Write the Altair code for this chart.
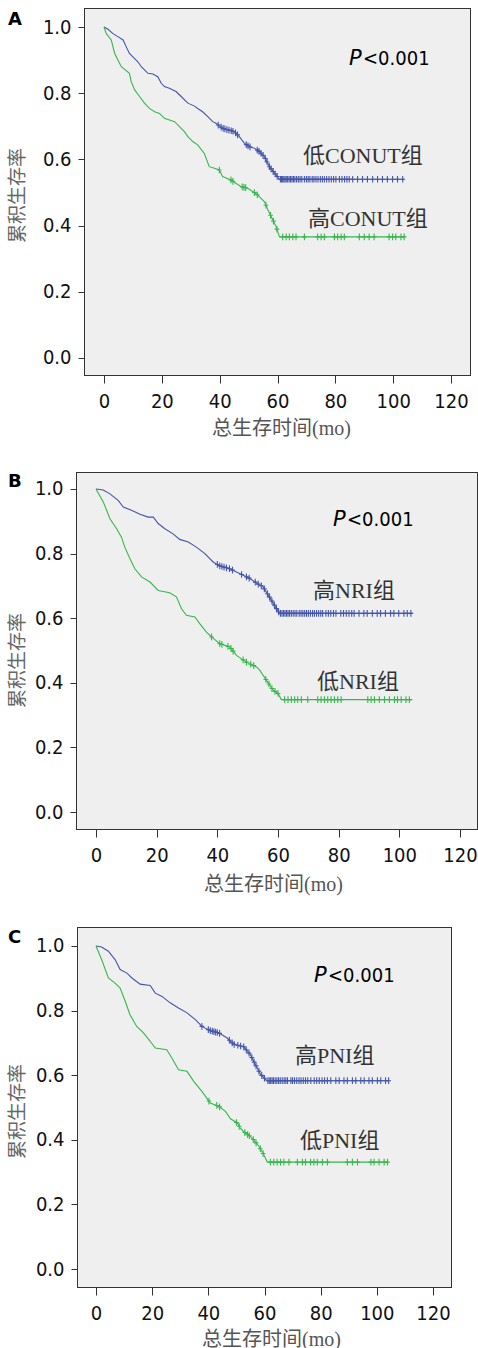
import altair as alt
import pandas as pd

# ---------------------------------------------------------------- styling
BLUE = "#4355ab"
GREEN = "#35b84b"
FRAME = "#333333"
PANEL_BG = "#efefef"
NUM_FONT = "DejaVu Sans Condensed, DejaVu Sans"
LABEL_FONT = "Liberation Serif, Noto Sans CJK SC"
CJK_FONT = "Noto Sans CJK SC"
CENSOR_SHAPE = "M0,-1L0,1M-0.7,0L0.7,0"

x_ticks = [0, 20, 40, 60, 80, 100, 120]
y_ticks = [0.0, 0.2, 0.4, 0.6, 0.8, 1.0]
x_title = "总生存时间(mo)"
y_title = "累积生存率"
p_prefix = "P"
p_rest = "<0.001"

# ---------------------------------------------------------------- panel A: CONUT
a_blue_name = "低CONUT组"
a_blue_t = [0, 1.4, 3.1, 4.8, 6.6, 7.7, 8.8, 10, 11.7, 12.9, 15.2, 16.9, 18.6, 19.8,
            20.9, 22.6, 24.9, 26.7, 29, 31.3, 32.4, 34.1, 35.9, 37.6, 38.7, 41, 45,
            46.8, 48.5, 50.3, 52, 53.8, 55.5, 57.2, 59, 60.7, 103.8]
a_blue_s = [1.0, 0.993, 0.98, 0.971, 0.961, 0.94, 0.92, 0.91, 0.895, 0.88, 0.86, 0.858,
            0.85, 0.83, 0.82, 0.815, 0.805, 0.79, 0.77, 0.761, 0.754, 0.744, 0.729,
            0.714, 0.709, 0.694, 0.684, 0.669, 0.649, 0.638, 0.634, 0.623, 0.608,
            0.578, 0.558, 0.54, 0.54]
a_blue_cens = [39.5, 40.5, 41.2, 41.8, 42.5, 43.2, 44, 44.6, 45.5, 46.2, 49.2, 49.8,
               50.5, 53, 53.6, 54.3, 55, 55.8, 56.4, 57.2, 57.8, 58.5, 59.2, 59.9,
               61, 61.4, 61.8, 62.2, 62.6, 63, 63.5, 64, 64.5, 65, 65.5, 66, 66.6,
               67.2, 67.8, 68.4, 69.3, 70, 70.6, 71.2, 72, 72.6, 73.3, 74, 74.8, 75.5,
               76.2, 77, 77.8, 78.6, 79.4, 80.2, 81.4, 82.3, 83.2, 84, 84.8, 86, 87.7,
               89.4, 91.1, 92.9, 94.6, 96.3, 98, 99.8, 101.5, 103.3]
a_green_name = "高CONUT组"
a_green_t = [0, 0.8, 2.5, 3.7, 4.8, 6, 8.8, 9.4, 10.6, 12.3, 14, 15.7, 17.5, 19.2,
             20.9, 24.4, 26.1, 27.8, 29, 30.7, 32.4, 34.7, 36.4, 38.2, 39.9, 41,
             43.9, 47.3, 49.7, 52.5, 53.8, 55.5, 56.7, 58.4, 59.5, 60.7, 103.8]
a_green_s = [1.0, 0.98, 0.961, 0.92, 0.9, 0.88, 0.86, 0.835, 0.81, 0.79, 0.77, 0.754,
             0.744, 0.739, 0.724, 0.714, 0.699, 0.684, 0.669, 0.654, 0.644, 0.618,
             0.578, 0.573, 0.568, 0.548, 0.538, 0.518, 0.513, 0.497, 0.487, 0.472,
             0.447, 0.417, 0.397, 0.366, 0.366]
a_green_cens = [39.9, 43.9, 44.6, 47.8, 48.4, 49, 52, 53, 56, 57.6, 58.6, 59.8,
                61.8, 63, 64.1, 65.3, 66.4, 69.3, 73.9, 75.1, 76.2, 79.7, 80.8, 82,
                83.1, 88.3, 90, 91.7, 93.4, 98.6, 99.8, 100.9, 102.7, 103.8]

# ---------------------------------------------------------------- panel B: NRI
b_blue_name = "高NRI组"
b_blue_t = [0, 2.4, 4.6, 7.3, 9, 11.7, 14.5, 17.2, 18.9, 20.5, 22.7, 25.4, 27.6, 30.4,
            33.1, 35.9, 38.6, 40.8, 44.1, 46.3, 49.6, 50.7, 53.9, 55, 56.1, 57.8,
            59.4, 60.5, 104.4]
b_blue_s = [1.0, 0.997, 0.985, 0.965, 0.944, 0.934, 0.922, 0.913, 0.913, 0.893, 0.877,
            0.861, 0.844, 0.836, 0.82, 0.8, 0.774, 0.762, 0.753, 0.743, 0.728, 0.723,
            0.703, 0.698, 0.682, 0.656, 0.631, 0.615, 0.615]
b_blue_cens = [40, 40.8, 41.5, 42.2, 43, 44, 45, 48, 49.6, 50.5, 52.5, 53.5, 54.5,
               55.5, 56.5, 57.2, 58, 58.8, 59.5, 60.2,
               60.8, 61.3, 61.8, 62.3, 62.8, 63.3, 63.8, 64.4, 65, 65.6, 66.2, 67,
               67.6, 68.2, 68.8, 69.4, 70, 70.7, 71.4, 72, 72.7, 73.4, 74.1, 74.7,
               75.8, 76.6, 77.4, 78.3, 79.1, 80.7, 81.6, 82.5, 83.4, 84.3, 85.1,
               86.7, 88.3, 89.4, 91.1, 92.7, 93.8, 95.4, 97.1, 98.2, 99.8, 101.5,
               102.6, 103.8]
b_green_name = "低NRI组"
b_green_t = [0, 2.4, 4.6, 6.8, 8.4, 9.5, 11.2, 12.8, 15, 17.8, 20.5, 24.3, 26.5,
             28.2, 29.8, 32.6, 34.2, 36.4, 38.1, 40.8, 44.1, 46.3, 49.6, 52.9, 53.9,
             56.1, 58.3, 60, 61.1, 104.3]
b_green_s = [1.0, 0.96, 0.908, 0.877, 0.851, 0.82, 0.784, 0.753, 0.728, 0.712, 0.686,
             0.679, 0.666, 0.629, 0.609, 0.604, 0.583, 0.557, 0.542, 0.521, 0.511,
             0.485, 0.464, 0.449, 0.44, 0.409, 0.378, 0.367, 0.348, 0.348]
b_green_cens = [38.1, 40.8, 41.5, 43.5, 44.5, 45.2, 48.5, 49.6, 51, 52, 56, 57, 58,
                59, 60, 62.2, 63.3, 64.4, 65.5, 66.5, 67.7, 69.8, 73.1, 74.2, 75.3,
                76.4, 77.5, 78.6, 79.7, 80.8, 89.6, 90.7, 91.8, 93.4, 95.1, 96.7,
                98.4, 99.4, 100.6, 102.2, 103.3]

# ---------------------------------------------------------------- panel C: PNI
c_blue_name = "高PNI组"
c_blue_t = [0, 2, 4.4, 6.8, 8.6, 11, 12.8, 15.7, 19.3, 21.1, 23.5, 26.4, 29.4, 32.4,
            35.4, 37.7, 40.7, 43.7, 46.7, 49, 52.6, 55, 56.8, 58.6, 60.4, 61, 104.4]
c_blue_s = [1.0, 0.997, 0.984, 0.958, 0.927, 0.916, 0.901, 0.882, 0.878, 0.854, 0.844,
            0.824, 0.808, 0.793, 0.772, 0.751, 0.738, 0.731, 0.715, 0.696, 0.688,
            0.663, 0.632, 0.603, 0.587, 0.583, 0.583]
c_blue_cens = [37.7, 40, 40.7, 41.4, 42, 42.6, 43.2, 44, 47.5, 48.5, 49.2, 50.5, 51.5,
               52.6, 53.5, 54.5, 55.5, 56.3, 57, 58, 59, 60,
               61.2, 61.7, 62.2, 62.7, 63.2, 63.8, 64.4, 65, 65.6, 66.3, 67, 67.6,
               68.2, 69.4, 70, 70.7, 71.5, 72.3, 73, 73.8, 74.6, 75.4, 76.5, 77.7,
               78.6, 79.5, 80.5, 81.4, 82.4, 83.6, 85.4, 86.6, 88.3, 89.5, 91.3,
               92.5, 94.3, 95.5, 97.2, 98.4, 100.2, 101.4, 103.1, 104.2]
c_green_name = "低PNI组"
c_green_t = [0, 2, 4.4, 6.8, 8.6, 10.4, 12.1, 14.5, 16.9, 19.3, 21.1, 25.2, 27, 29.4,
             32.4, 34.8, 37.7, 40.7, 43.7, 46.1, 47.9, 50.3, 51.4, 52.6, 55, 56.2,
             58, 59.8, 61, 103.8]
c_green_s = [1.0, 0.958, 0.901, 0.885, 0.87, 0.829, 0.787, 0.751, 0.731, 0.705, 0.684,
             0.679, 0.653, 0.617, 0.612, 0.581, 0.55, 0.514, 0.504, 0.488, 0.465,
             0.452, 0.436, 0.425, 0.41, 0.399, 0.38, 0.353, 0.331, 0.331]
c_green_cens = [40.2, 43, 44, 50, 51, 53, 54, 54.6, 56, 57, 58.5, 59.5,
                62.1, 63.3, 64.5, 65.7, 66.9, 68.7, 71.7, 73.5, 74.6, 76.4, 77.6,
                78.8, 80.6, 82.4, 89.5, 91.3, 93.1, 97.9, 99, 100.8, 102.6, 103.8]


def curve_value(times, surv, t):
    """Height of the drawn survival curve at time t (places censor ticks on it)."""
    for i in range(1, len(times)):
        if t <= times[i]:
            t0, t1 = times[i - 1], times[i]
            s0, s1 = surv[i - 1], surv[i]
            return s0 + (s1 - s0) * (t - t0) / (t1 - t0) if t1 > t0 else s1
    return surv[-1]


# Per-panel layout: plot groups share a left origin; x0/x1 is where the
# framed plot area sits inside that group.
panels = [
    dict(letter="A", width=393, height=366, x0=8, x1=393,
         xdom=[-6.57, 126.57], ydom=[-0.0514, 1.0544],
         blue=(a_blue_name, a_blue_t, a_blue_s, a_blue_cens),
         green=(a_green_name, a_green_t, a_green_s, a_green_cens),
         blue_lab=(226, 154), green_lab=(231, 217), p_pos=(271, 286, 56),
         letter_y=16, xt=(204, 53), yt=(-68, 186), top_pad=-9, bottom=463),
    dict(letter="B", width=400, height=356, x0=0, x1=400,
         xdom=[-6.26, 125.6], ydom=[-0.0526, 1.0495],
         blue=(b_blue_name, b_blue_t, b_blue_s, b_blue_cens),
         green=(b_green_name, b_green_t, b_green_s, b_green_cens),
         blue_lab=(236, 125), green_lab=(240, 216), p_pos=(255, 270, 53),
         letter_y=14, xt=(196, 55), yt=(-60, 187), top_pad=0, bottom=454),
    dict(letter="C", width=374, height=359, x0=1, x1=374,
         xdom=[-6.41, 126.41], ydom=[-0.0557, 1.0557],
         blue=(c_blue_name, c_blue_t, c_blue_s, c_blue_cens),
         green=(c_green_name, c_green_t, c_green_s, c_green_cens),
         blue_lab=(218, 135), green_lab=(223, 220), p_pos=(236, 251, 54),
         letter_y=15, xt=(194, 52), yt=(-61, 183), top_pad=0, bottom=420),
]

one = pd.DataFrame({"k": [0]})


def text_layer(text, x, y, **style):
    return alt.Chart(one).mark_text(text=text, align="left", baseline="alphabetic",
                                    **style).encode(x=alt.value(x), y=alt.value(y))


def km_panel(p):
    rows, cens_rows = [], []
    for name, times, surv, cens in (p["blue"], p["green"]):
        rows += [{"t": t, "s": s, "grp": name} for t, s in zip(times, surv)]
        cens_rows += [{"t": t, "s": curve_value(times, surv, t), "grp": name}
                      for t in cens]
    curves = pd.DataFrame(rows)
    censored = pd.DataFrame(cens_rows)

    x_enc = alt.X("t:Q", scale=alt.Scale(domain=p["xdom"], range=[p["x0"], p["x1"]],
                                         nice=False, zero=False),
                  axis=alt.Axis(values=x_ticks, format="d", domain=False, grid=False,
                                tickSize=8, tickColor=FRAME, labelFont=NUM_FONT,
                                labelFontSize=20, labelColor="#111", labelPadding=8,
                                labelFlush=False, labelOverlap=False,
                                title=x_title, titleFont=LABEL_FONT, titleFontSize=20,
                                titleFontWeight="normal", titleColor="#555",
                                titleX=p["xt"][0], titleY=p["xt"][1],
                                titleAlign="center", titleBaseline="middle"))
    y_enc = alt.Y("s:Q", scale=alt.Scale(domain=p["ydom"], nice=False, zero=False),
                  axis=alt.Axis(values=y_ticks, format=".1f", domain=False, grid=False,
                                offset=-p["x0"], tickSize=7, tickColor=FRAME,
                                labelFont=NUM_FONT, labelFontSize=20, labelColor="#111",
                                labelPadding=7, labelOverlap=False,
                                title=y_title, titleFont=CJK_FONT, titleFontSize=19,
                                titleFontWeight="normal", titleColor="#666",
                                titleAngle=270, titleX=p["yt"][0], titleY=p["yt"][1],
                                titleAlign="center", titleBaseline="middle"))
    color = alt.Color("grp:N", legend=None,
                      scale=alt.Scale(domain=[p["blue"][0], p["green"][0]],
                                      range=[BLUE, GREEN]))

    w, h, x0, x1 = p["width"], p["height"], p["x0"], p["x1"]
    frame = alt.Chart(one).mark_rect(fill=FRAME).encode(
        x=alt.value(x0 - 1), x2=alt.value(x1 + 1), y=alt.value(-1), y2=alt.value(h + 1))
    plot_bg = alt.Chart(one).mark_rect(fill=PANEL_BG).encode(
        x=alt.value(x0), x2=alt.value(x1), y=alt.value(0), y2=alt.value(h))

    lines = alt.Chart(curves).mark_line(strokeWidth=1.1).encode(
        x=x_enc, y=y_enc, color=color, order="t:Q")
    marks = alt.Chart(censored).mark_point(shape=CENSOR_SHAPE, filled=False, size=45,
                                           strokeWidth=1.1, opacity=1).encode(
        x=x_enc, y=y_enc, color=color)

    px, rx, py = p["p_pos"]
    texts = [
        text_layer(p["letter"], -69, p["letter_y"], font="DejaVu Sans", fontWeight="bold",
                   fontSize=18, color="#000"),
        text_layer(p_prefix, px + 1, py, font="DejaVu Sans", fontStyle="italic",
                   fontSize=21, color="#000"),
        text_layer(p_rest, rx, py, font=NUM_FONT, fontSize=20, color="#000"),
        text_layer(p["blue"][0], p["blue_lab"][0], p["blue_lab"][1], font=LABEL_FONT,
                   fontSize=22, color="#333"),
        text_layer(p["green"][0], p["green_lab"][0], p["green_lab"][1], font=LABEL_FONT,
                   fontSize=22, color="#333"),
    ]
    # invisible guide that fixes the panel's outer extent in the stacked layout
    guide = alt.Chart(one).mark_rule(strokeOpacity=0).encode(
        x=alt.value(-77), y=alt.value(p["top_pad"]), y2=alt.value(p["bottom"]))

    return alt.layer(frame, plot_bg, lines, marks, *texts, guide).properties(
        width=w, height=h)


chart = alt.vconcat(*[km_panel(p) for p in panels], spacing=0).properties(
    padding=0, background="white").configure_view(stroke=None)

chart.save("out.html", embed_options={"renderer": "svg", "actions": False})
